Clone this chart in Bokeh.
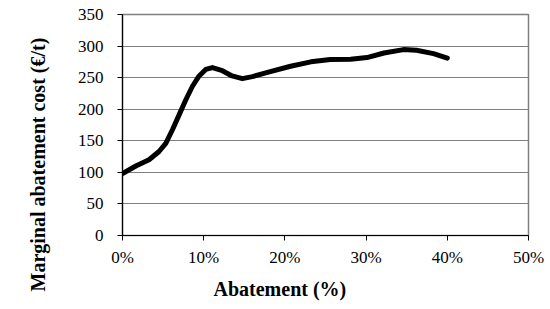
from bokeh.plotting import figure
from bokeh.models import FixedTicker, NumeralTickFormatter, Range1d, Title
from bokeh.embed import file_html
from bokeh.resources import INLINE

# Abatement (fraction) and marginal abatement cost (EUR/t)
abatement = [0.0, 0.0164, 0.0327, 0.045, 0.0533, 0.0615, 0.0697, 0.078, 0.086, 0.0943,
             0.1025, 0.1107, 0.123, 0.135, 0.1476, 0.16, 0.182, 0.207, 0.232, 0.256,
             0.281, 0.301, 0.322, 0.346, 0.362, 0.383, 0.40]
cost = [98, 110, 120, 133, 146, 167.5, 191, 215, 236, 252.7,
        263, 266, 261, 252.7, 248.4, 251.6, 259.4, 268, 275, 278.7,
        279, 281.8, 289, 294.4, 293.3, 288, 281]

x_ticks = [0.0, 0.1, 0.2, 0.3, 0.4, 0.5]
y_ticks = [0, 50, 100, 150, 200, 250, 300, 350]

x_title = "Abatement (%)"
y_title = "Marginal abatement cost (€/t)"

FONT = "Liberation Serif"

p = figure(width=550, height=309, output_backend="svg", toolbar_location=None,
           x_range=Range1d(0, 0.5), y_range=Range1d(0, 350),
           min_border_left=122, min_border_right=22, min_border_top=14, min_border_bottom=72)

p.line(abatement, cost, line_width=5, line_color="black", line_join="round", line_cap="round")

p.outline_line_color = "#808080"
p.outline_line_width = 1.5
p.background_fill_color = "white"
p.border_fill_color = "white"

p.xgrid.grid_line_color = None
p.ygrid.grid_line_color = "#7f7f7f"
p.ygrid.grid_line_width = 1.2

p.xaxis.ticker = FixedTicker(ticks=x_ticks)
p.yaxis.ticker = FixedTicker(ticks=y_ticks)
p.xaxis.formatter = NumeralTickFormatter(format="0%")

for ax in (p.xaxis, p.yaxis):
    ax.axis_line_color = "black"
    ax.axis_line_width = 1.2
    ax.major_tick_line_color = "black"
    ax.major_tick_in = 0
    ax.major_tick_out = 5
    ax.minor_tick_line_color = None
    ax.major_label_text_font = FONT
    ax.major_label_text_font_size = "17px"
    ax.major_label_text_color = "black"

p.xaxis.major_label_standoff = 7
p.yaxis.major_label_standoff = 14

# axis titles as side titles, shifted along the axis as in the reference
p.add_layout(Title(text=x_title, text_font=FONT, text_font_size="20px", text_font_style="bold",
                   text_color="black", align="left", offset=91, vertical_align="top",
                   standoff=16), "below")
p.add_layout(Title(text=y_title, text_font=FONT, text_font_size="20px", text_font_style="bold",
                   text_color="black", align="left", offset=-56, vertical_align="top",
                   standoff=48), "left")

open("out.html", "w").write(file_html(p, INLINE))
